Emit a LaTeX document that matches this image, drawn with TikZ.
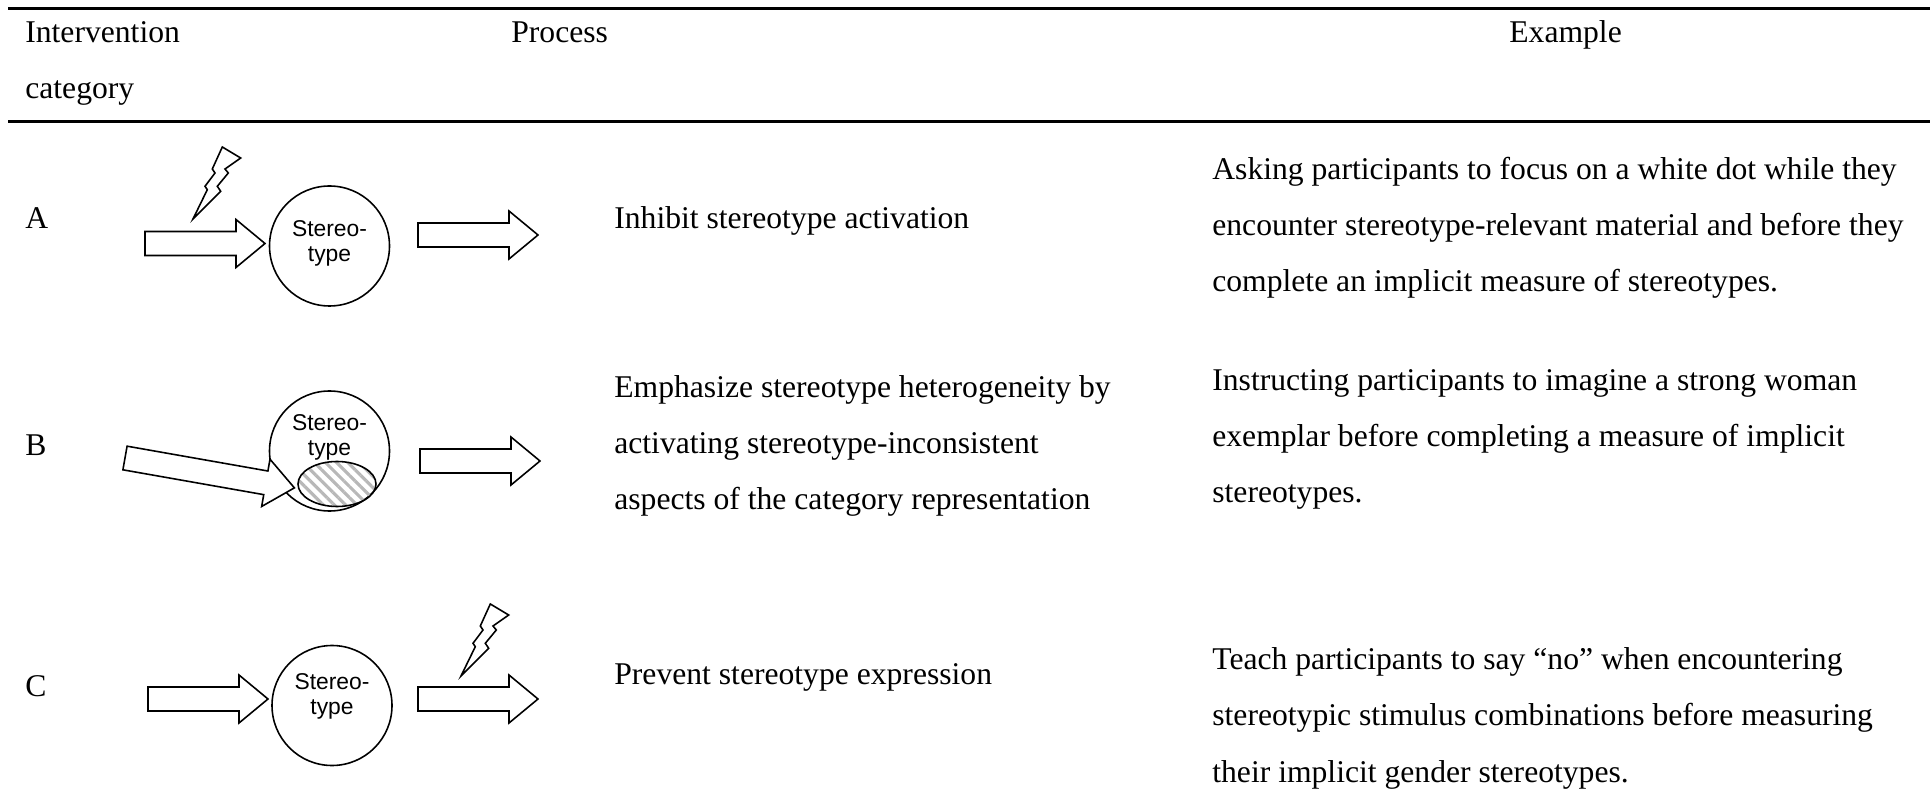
\documentclass[tikz,border=0pt]{standalone}
\usepackage{fontspec}
\setmainfont{Liberation Serif}
\newfontfamily\arialfont{Liberation Sans}
\usetikzlibrary{shapes.geometric,patterns.meta}

\tikzset{
  shapeline/.style={draw=black,line width=0.9pt,line join=miter,fill=white},
  pics/blockarrow/.style={code={
    \draw[shapeline] (0,-0.24) -- (#1-0.58,-0.24) -- (#1-0.58,-0.48) -- (#1,0)
      -- (#1-0.58,0.48) -- (#1-0.58,0.24) -- (0,0.24) -- cycle;
  }},
  pics/bolt/.style={code={
    \draw[shapeline] (0,0) -- (0.554,0.554) -- (0.486,0.654) -- (0.706,0.92) -- (0.64,1.0)
      -- (0.954,1.22) -- (0.586,1.44) -- (0.386,1.0) -- (0.44,0.92) -- (0.24,0.654)
      -- (0.286,0.586) -- cycle;
  }},
  stereo/.style={circle,draw,line width=0.9pt,minimum size=2.4cm,inner sep=0pt},
  stereotxt/.style={font=\arialfont\fontsize{13}{14.2}\selectfont,align=center,inner sep=0pt},
  cell/.style={anchor=base west,inner sep=0pt,align=left},
  tablerule/.style={line width=2.2pt}
}

\begin{document}
\begin{tikzpicture}[font=\fontsize{18}{32}\selectfont]
\useasboundingbox (0,0) rectangle (38.6,16.16);
\draw[tablerule] (0.16,15.99) -- (38.6,15.99);
\draw[tablerule] (0.16,13.73) -- (38.6,13.73);

% header (multi-line cells sit on the baseline of their last line)
\node[cell] (hd-cat) at (0.5,14.19) {Intervention\\category};
\node[cell] (hd-proc) at (10.22,15.31) {Process};
\node[cell] (hd-ex) at (30.18,15.31) {Example};

% row A
\node[cell] (lab-a) at (0.5,11.58) {A};
\node[stereo] (st-a) at (6.59,11.24) {};
\node[stereotxt] (txt-a) at ([yshift=0.06cm]st-a.center) {Stereo-\\type};
\pic at (2.90,11.29) {blockarrow=2.4};
\pic at (8.36,11.46) {blockarrow=2.4};
\pic at (3.86,11.78) {bolt};
\node[cell] (proc-a) at (12.28,11.58) {Inhibit stereotype activation};
\node[cell] (ex-a) at (24.24,10.32) {Asking participants to focus on a white dot while they\\
  encounter stereotype-relevant material and before they\\
  complete an implicit measure of stereotypes.};

% row B
\node[cell] (lab-b) at (0.5,7.06) {B};
\node[stereo] (st-b) at (6.59,7.14) {};
\node[stereotxt] (txt-b) at ([yshift=0.28cm]st-b.center) {Stereo-\\type};
\node[ellipse,draw,line width=0.9pt,minimum width=1.56cm,minimum height=0.9cm,inner sep=0pt,
  pattern={Lines[angle=-45,distance=4.5pt,line width=1.8pt]},pattern color=black!28] (het) at (6.74,6.48) {};
\pic[rotate=-10] at (2.50,7.00) {blockarrow=3.44};
\pic at (8.40,6.94) {blockarrow=2.4};
\node[cell] (proc-b) at (12.28,5.97) {Emphasize stereotype heterogeneity by\\
  activating stereotype-inconsistent\\
  aspects of the category representation};
\node[cell] (ex-b) at (24.24,6.10) {Instructing participants to imagine a strong woman\\
  exemplar before completing a measure of implicit\\
  stereotypes.};

% row C
\node[cell] (lab-c) at (0.5,2.24) {C};
\node[stereo] (st-c) at (6.64,2.05) {};
\node[stereotxt] (txt-c) at ([yshift=0.19cm]st-c.center) {Stereo-\\type};
\pic at (2.96,2.18) {blockarrow=2.4};
\pic at (8.36,2.18) {blockarrow=2.4};
\pic at (9.22,2.64) {bolt};
\node[cell] (proc-c) at (12.28,2.48) {Prevent stereotype expression};
\node[cell] (ex-c) at (24.24,0.52) {Teach participants to say ``no'' when encountering\\
  stereotypic stimulus combinations before measuring\\
  their implicit gender stereotypes.};
\end{tikzpicture}
\end{document}
